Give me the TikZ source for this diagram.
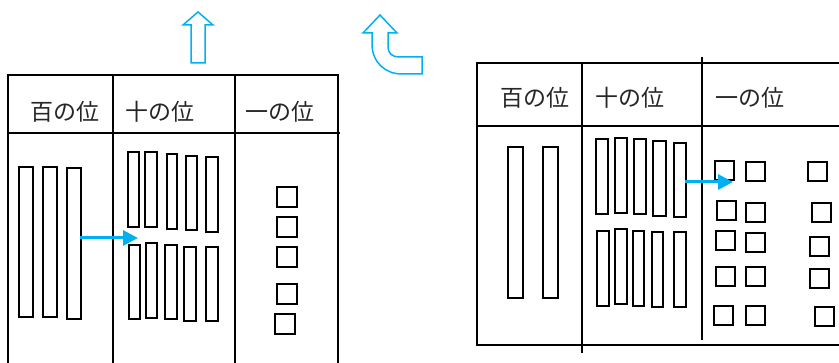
\documentclass[tikz,border=0pt]{standalone}
\usepackage{fontspec}
\newfontfamily\jp{Noto Sans CJK JP}
\usepackage{tikz}
\usetikzlibrary{arrows.meta}
\definecolor{arrowblue}{RGB}{0,176,240}

\begin{document}
\begin{tikzpicture}[x=1pt,y=-1pt]

\tikzstyle{every node}=[font=\jp\fontsize{23}{23}\selectfont, inner sep=0pt, text=black!85]
\tikzstyle{rule}=[line width=1.6pt]
\tikzstyle{piece}=[line width=1.4pt]
\tikzstyle{move}=[arrowblue, line width=3pt, -{Triangle[length=15pt,width=15pt]}]
\tikzstyle{bigarrow}=[arrowblue, line width=1.5pt, line join=miter]

\useasboundingbox (0,0) rectangle (839,363);

% left table
\draw[rule] (8,363) -- (8,75) -- (338,75) -- (338,363);
\draw[rule] (113,75) -- (113,363);
\draw[rule] (235,75) -- (235,363);
\draw[rule] (8,133) -- (340,133);

\node (lh) at (65,112) {百の位};
\node (lt) at (160,112) {十の位};
\node (lo) at (280,112) {一の位};

% hundreds
\foreach \xa/\xb/\ya/\yb in {19/33/167/317, 43/57/167/317, 67/81/168/319}
  \draw[piece] (\xa,\ya) rectangle (\xb,\yb);

% tens
\foreach \xa/\xb/\ya/\yb in {128/139/152/227, 145/157/152/227, 167/177/154/229,
    186/197/156/230, 206/218/157/232, 129/140/245/319, 146/157/243/318,
    165/177/245/319, 184/196/247/321, 206/218/247/321}
  \draw[piece] (\xa,\ya) rectangle (\xb,\yb);

% ones
\foreach \xa/\ya in {277/187, 277/217, 277/247, 277/284, 275/314}
  \draw[piece] (\xa,\ya) rectangle ++(20,20);

\coordinate (a1s) at (80,238);
\coordinate (a1e) at (138,238);
\draw[move] (a1s) -- (a1e);

% right table
\draw[rule] (839,63) -- (477,63) -- (477,345) -- (839,345);
\draw[rule] (582,63) -- (582,353);
\draw[rule] (702,57) -- (702,340);
\draw[rule] (477,126) -- (839,126);

\node (rh) at (535,98) {百の位};
\node (rt) at (630,98) {十の位};
\node (ro) at (750,98) {一の位};

% hundreds
\foreach \xa/\xb in {508/523, 543/558}
  \draw[piece] (\xa,147) rectangle (\xb,298);

% tens
\foreach \xa/\xb/\ya/\yb in {596/608/139/214, 615/627/138/213, 634/646/139/214,
    653/666/141/216, 674/686/143/217, 597/609/231/306, 615/627/229/304,
    633/644/231/306, 652/663/232/307, 674/686/232/307}
  \draw[piece] (\xa,\ya) rectangle (\xb,\yb);

% ones
\foreach \xa/\ya in {715/161, 717/201, 716/231, 716/267, 714/306,
    746/162, 746/203, 746/233, 746/267, 746/306,
    808/162, 812/203, 810/237, 810/269, 815/307}
  \draw[piece] (\xa,\ya) rectangle ++(19,19);

\coordinate (a2s) at (685,182);
\coordinate (a2e) at (733,182);
\draw[move] (a2s) -- (a2e);

% up arrow
\draw[bigarrow] (191,63) -- (191,25) -- (183,25) -- (198,12) -- (213,25)
  -- (205,25) -- (205,63) -- cycle;

% turn arrow
\draw[bigarrow] (372,33) -- (372,44) .. controls (372,62) and (385,74) .. (402,74)
  -- (422,74) -- (422,57) -- (399,57) .. controls (392,57) and (388,53) .. (388,47)
  -- (388,33) -- (397,33) -- (380,15) -- (363,33) -- cycle;

\end{tikzpicture}
\end{document}
